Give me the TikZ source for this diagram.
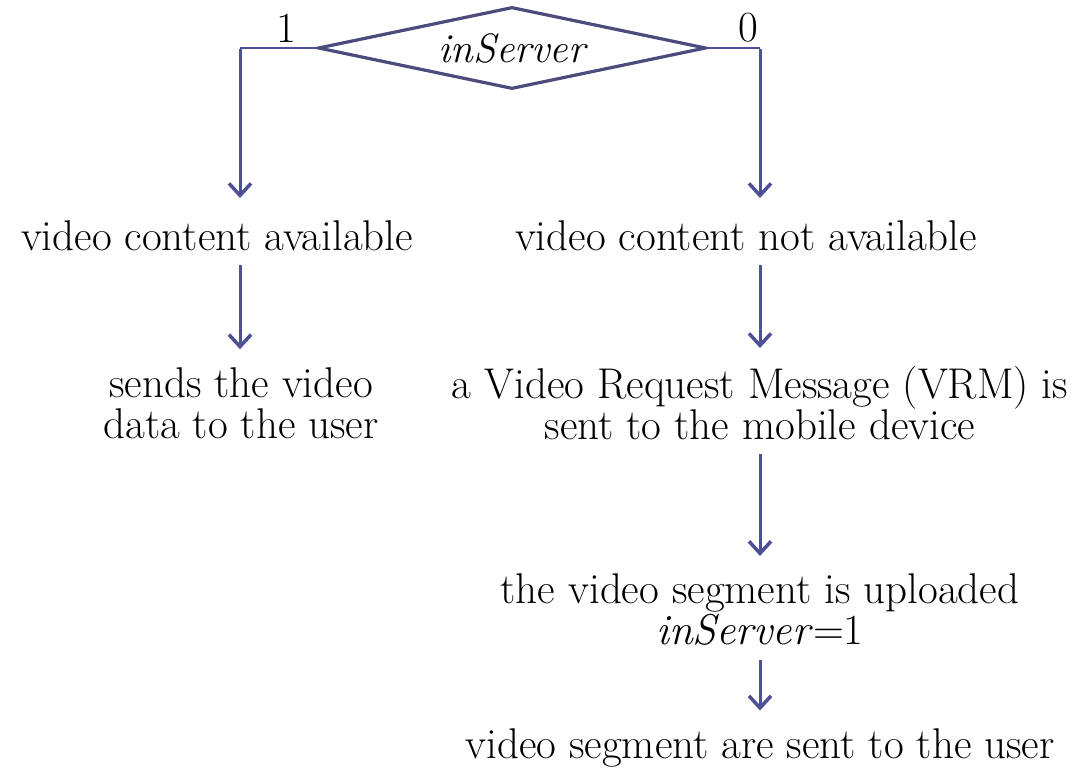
\documentclass[tikz,border=0pt]{standalone}
\usetikzlibrary{shapes.geometric,arrows.meta}
\definecolor{linec}{RGB}{78,80,150}
\definecolor{diac}{RGB}{76,76,124}
\begin{document}
\begin{tikzpicture}[x=1pt,y=-1pt,
  txt/.style={inner sep=0pt,align=center,font=\fontsize{43}{41}\selectfont},
  conn/.style={draw=linec,line width=2.2pt},
  arr/.style={draw=linec,line width=3pt,-{Straight Barb[length=12pt,width=22pt,line width=3.5pt]}},
  dia/.style={diamond,draw=diac,line width=3.2pt,inner sep=0pt,aspect=4.7,minimum width=388pt,minimum height=82pt,font=\fontsize{41}{41}\selectfont\itshape}]
\useasboundingbox (0,0) rectangle (1076,768);
\node[dia] (d) at (512,48) {inServer};
\node[txt] (one) at (286,28) {1};
\node[txt] (zero) at (748,28) {0};
\node[txt] (avail) at (217,236) {video content available};
\node[txt] (navail) at (746,236) {video content not available};
\node[txt] (sends) at (241,403) {sends the video\\data to the user};
\node[txt] (vrm) at (760,403) {a Video Request Message (VRM) is\\sent to the mobile device};
\node[txt] (upl) at (760,610) {the video segment is uploaded\\\textit{inServer}=1};
\node[txt] (sent) at (760,748) {video segment are sent to the user};
\coordinate (lt) at (240,198);
\coordinate (rt) at (760,198);
\draw[conn] (d.west) -- (lt |- d.west);
\draw[conn] (d.east) -- (rt |- d.east);
\draw[arr] ([yshift=-1.1pt]lt |- d.west) -- (lt);
\draw[arr] ([yshift=-1.1pt]rt |- d.east) -- (rt);
\draw[arr,shorten <=14pt,shorten >=18pt] (avail.south -| lt) -- (sends.north -| lt);
\draw[arr,shorten <=14pt,shorten >=18pt] (navail.south -| rt) -- (vrm.north -| rt);
\draw[arr,shorten <=14pt,shorten >=18pt] (vrm.south -| rt) -- (upl.north -| rt);
\draw[arr,shorten <=14pt,shorten >=18pt] (upl.south -| rt) -- (sent.north -| rt);
\end{tikzpicture}
\end{document}
